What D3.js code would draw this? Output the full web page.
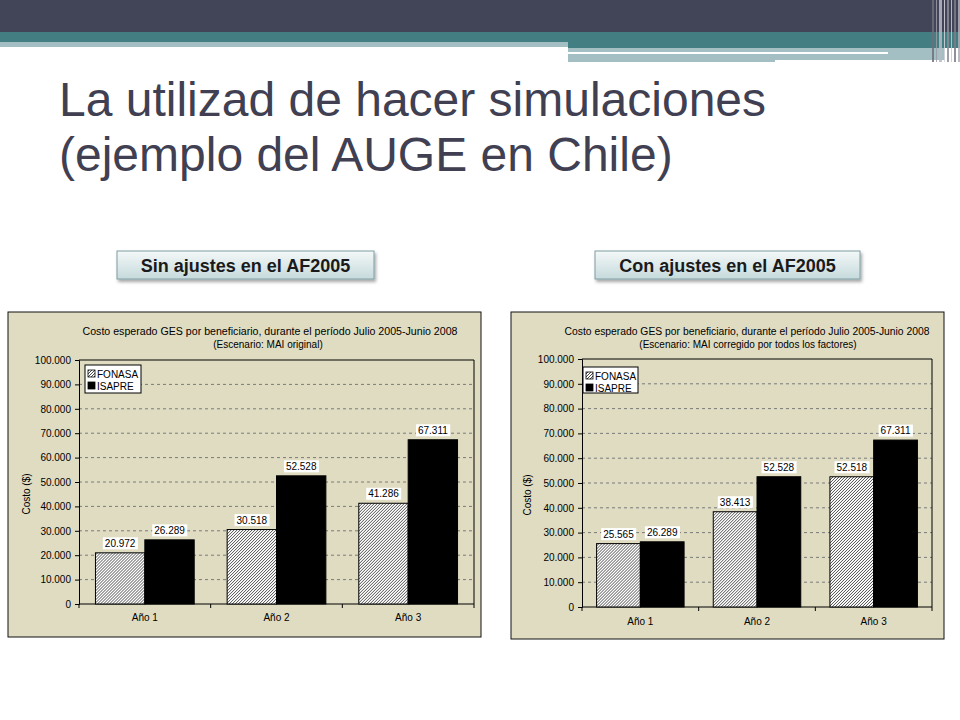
<!DOCTYPE html>
<html>
<head>
<meta charset="utf-8">
<script src="https://cdn.jsdelivr.net/npm/d3@7"></script>
<style>
  body { margin: 0; background: #fff; }
  svg { display: block; font-family: "Liberation Sans", Arial, sans-serif; }
</style>
</head>
<body>
<svg id="slide" width="960" height="720"></svg>
<script>
// Slide: two Excel-style bar charts, Sin / Con ajustes en el AF2005

var categories = ["Año 1", "Año 2", "Año 3"];
var seriesNames = ["FONASA", "ISAPRE"];
var fonasaSin = [20972, 30518, 41286];
var isapreSin = [26289, 52528, 67311];
var fonasaCon = [25565, 38413, 52518];
var isapreCon = [26289, 52528, 67311];
var yTicks = [0, 10000, 20000, 30000, 40000, 50000, 60000, 70000, 80000, 90000, 100000];

var chartTitle = "Costo esperado GES por beneficiario, durante el período Julio 2005-Junio 2008";
var yTitle = "Costo ($)";

var es = d3.formatLocale({decimal: ",", thousands: ".", grouping: [3], currency: ["$", ""]});
var fmt = es.format(",");

var svg = d3.select("#slide");

// ---- banner at the top
svg.append("rect").attr("x", 0).attr("y", 0).attr("width", 960).attr("height", 32).attr("fill", "#424457");
svg.append("rect").attr("x", 0).attr("y", 32).attr("width", 960).attr("height", 10).attr("fill", "#437f82");
svg.append("rect").attr("x", 0).attr("y", 42).attr("width", 568).attr("height", 5).attr("fill", "#a3bfc3");
svg.append("rect").attr("x", 568).attr("y", 42).attr("width", 392).attr("height", 6).attr("fill", "#437f82");
svg.append("rect").attr("x", 568).attr("y", 48).attr("width", 377).attr("height", 14).attr("fill", "#a3bfc3");
svg.append("rect").attr("x", 568).attr("y", 52).attr("width", 320).attr("height", 2).attr("fill", "#ffffff");
svg.append("rect").attr("x", 775).attr("y", 60).attr("width", 170).attr("height", 2).attr("fill", "#ffffff");
var stripes = [[932, 2, "#6d6e7c"], [936, 1, "#9a9ba6"], [939, 3, "#b9bac3"], [944, 1, "#d5d6dc"],
               [947, 2, "#8d8e99"], [951, 1, "#c8c9d0"], [954, 2, "#7c7d8a"], [958, 2, "#aeafb9"]];
stripes.forEach(function(s) {
  svg.append("rect").attr("x", s[0]).attr("y", 0).attr("width", s[1]).attr("height", 62)
    .attr("fill", s[2]).attr("opacity", 0.85);
});

// ---- slide title
var title = svg.append("text").attr("x", 59).attr("fill", "#404052")
  .style("font-size", "48px");
title.append("tspan").attr("x", 59).attr("y", 116).text("La utilizad de hacer simulaciones");
title.append("tspan").attr("x", 59).attr("y", 171).text("(ejemplo del AUGE en Chile)");

// ---- defs: hatch pattern, label gradient, shadow
var defs = svg.append("defs");
var pat = defs.append("pattern").attr("id", "hatch").attr("patternUnits", "userSpaceOnUse")
  .attr("width", 3).attr("height", 3);
pat.append("rect").attr("width", 3).attr("height", 3).attr("fill", "#fff");
pat.append("path").attr("d", "M-1,1 l2,-2 M0,3 l3,-3 M2,4 l2,-2")
  .attr("stroke", "#000").attr("stroke-width", 0.7);

var grad = defs.append("linearGradient").attr("id", "boxgrad").attr("x1", 0).attr("y1", 0).attr("x2", 0).attr("y2", 1);
grad.append("stop").attr("offset", "0%").attr("stop-color", "#f4f8f8");
grad.append("stop").attr("offset", "100%").attr("stop-color", "#c6dadc");

var filt = defs.append("filter").attr("id", "shadow").attr("x", "-10%").attr("y", "-20%").attr("width", "130%").attr("height", "160%");
filt.append("feDropShadow").attr("dx", 1.5).attr("dy", 2.5).attr("stdDeviation", 1.5)
  .attr("flood-color", "#000").attr("flood-opacity", 0.35);

// ---- heading boxes
function headingBox(x, y, w, h, label) {
  svg.append("rect").attr("x", x).attr("y", y).attr("width", w).attr("height", h)
    .attr("fill", "url(#boxgrad)").attr("stroke", "#7f9ea2").attr("stroke-width", 1)
    .attr("filter", "url(#shadow)");
  svg.append("text").attr("x", x + w / 2).attr("y", y + h / 2 + 6.5)
    .attr("text-anchor", "middle").attr("fill", "#1a1a1a")
    .style("font-size", "18px").style("font-weight", "bold")
    .text(label);
}
headingBox(117, 251, 257, 28, "Sin ajustes en el AF2005");
headingBox(595, 251, 265, 28, "Con ajustes en el AF2005");

// ---- charts
function drawChart(cfg) {
  var g = svg.append("g");

  g.append("rect").attr("x", cfg.frame[0]).attr("y", cfg.frame[1])
    .attr("width", cfg.frame[2]).attr("height", cfg.frame[3])
    .attr("fill", "#dfdcc2").attr("stroke", "#111").attr("stroke-width", 1);

  // titles
  g.append("text").attr("x", cfg.titleX).attr("y", cfg.frame[1] + 23)
    .attr("text-anchor", "middle").style("font-size", "10px").attr("fill", "#000")
    .attr("textLength", cfg.titleLen).attr("lengthAdjust", "spacingAndGlyphs")
    .text(chartTitle);
  g.append("text").attr("x", cfg.subX).attr("y", cfg.frame[1] + 36)
    .attr("text-anchor", "middle").style("font-size", "10px").attr("fill", "#000")
    .text(cfg.subtitle);

  var x0 = d3.scaleBand().domain(categories).range([cfg.plot[0], cfg.plot[1]])
    .paddingInner(0.25).paddingOuter(0.125);
  var x1 = d3.scaleBand().domain(seriesNames).range([0, x0.bandwidth()]);
  var y = d3.scaleLinear().domain([0, 100000]).range([cfg.plot[3], cfg.plot[2]]);

  // gridlines
  g.append("g").selectAll("line").data(yTicks.slice(1, -1)).enter().append("line")
    .attr("x1", cfg.plot[0]).attr("x2", cfg.plot[1])
    .attr("y1", function(d) { return y(d); }).attr("y2", function(d) { return y(d); })
    .attr("stroke", "#7a7a7a").attr("stroke-width", 1).attr("stroke-dasharray", "3,3");

  // plot border (top and right)
  g.append("path")
    .attr("d", "M" + cfg.plot[0] + "," + cfg.plot[2] + "H" + cfg.plot[1] + "V" + cfg.plot[3])
    .attr("fill", "none").attr("stroke", "#000").attr("stroke-width", 1);

  // y axis
  var yAxis = g.append("g").attr("transform", "translate(" + cfg.plot[0] + ",0)")
    .call(d3.axisLeft(y).tickValues(yTicks).tickFormat(fmt).tickSize(4).tickPadding(4));
  yAxis.select(".domain").attr("stroke", "#000");
  yAxis.selectAll("text").style("font-size", "10px").attr("fill", "#000")
    .style("font-family", "'Liberation Sans', Arial, sans-serif");

  g.append("text")
    .attr("transform", "translate(" + cfg.yTitleX + "," + ((cfg.plot[2] + cfg.plot[3]) / 2 + 12) + ") rotate(-90)")
    .attr("text-anchor", "middle").style("font-size", "10px").attr("fill", "#000")
    .text(yTitle);

  // x axis: line plus boundary ticks, labels centred in band
  g.append("line").attr("x1", cfg.plot[0]).attr("x2", cfg.plot[1])
    .attr("y1", cfg.plot[3]).attr("y2", cfg.plot[3]).attr("stroke", "#000");
  var step = x0.step();
  var bounds = d3.range(categories.length + 1).map(function(i) { return cfg.plot[0] + i * step; });
  g.append("g").selectAll("line").data(bounds).enter().append("line")
    .attr("x1", function(d) { return d; }).attr("x2", function(d) { return d; })
    .attr("y1", cfg.plot[3]).attr("y2", cfg.plot[3] + 4).attr("stroke", "#000");
  g.append("g").selectAll("text").data(categories).enter().append("text")
    .attr("x", function(d) { return x0(d) + x0.bandwidth() / 2; })
    .attr("y", cfg.catY).attr("text-anchor", "middle")
    .style("font-size", "10px").attr("fill", "#000")
    .text(function(d) { return d; });

  // bars
  var rows = categories.map(function(c, i) {
    return {cat: c, vals: [{s: "FONASA", v: cfg.fonasa[i]}, {s: "ISAPRE", v: cfg.isapre[i]}]};
  });
  var grp = g.append("g").selectAll("g").data(rows).enter().append("g")
    .attr("transform", function(d) { return "translate(" + x0(d.cat) + ",0)"; });
  grp.selectAll("rect").data(function(d) { return d.vals; }).enter().append("rect")
    .attr("x", function(d) { return x1(d.s); })
    .attr("y", function(d) { return y(d.v); })
    .attr("width", x1.bandwidth())
    .attr("height", function(d) { return y(0) - y(d.v); })
    .attr("fill", function(d) { return d.s === "FONASA" ? "url(#hatch)" : "#000"; })
    .attr("stroke", "#000").attr("stroke-width", 1);

  // data labels with white boxes
  grp.selectAll("g.lbl").data(function(d) { return d.vals; }).enter().append("g")
    .attr("class", "lbl")
    .each(function(d) {
      var lg = d3.select(this);
      var cx = x1(d.s) + x1.bandwidth() / 2;
      var t = lg.append("text").attr("x", cx).attr("y", y(d.v) - 6)
        .attr("text-anchor", "middle").style("font-size", "10px").attr("fill", "#000")
        .text(fmt(d.v));
      var bb = t.node().getBBox();
      lg.insert("rect", "text").attr("x", bb.x - 2).attr("y", bb.y - 0.5)
        .attr("width", bb.width + 4).attr("height", bb.height + 1).attr("fill", "#fff");
    });

  // legend
  var L = cfg.legend;
  var lg = g.append("g");
  lg.append("rect").attr("x", L[0]).attr("y", L[1]).attr("width", L[2]).attr("height", L[3])
    .attr("fill", "#fff").attr("stroke", "#000").attr("stroke-width", 1);
  seriesNames.forEach(function(s, i) {
    var yy = L[1] + 4 + i * 12;
    lg.append("rect").attr("x", L[0] + 3).attr("y", yy + 1).attr("width", 7).attr("height", 7)
      .attr("fill", s === "FONASA" ? "url(#hatch)" : "#000").attr("stroke", "#000").attr("stroke-width", 0.8);
    lg.append("text").attr("x", L[0] + 12).attr("y", yy + 9)
      .style("font-size", "10px").attr("fill", "#000").text(s);
  });
}

drawChart({
  frame: [8, 312, 473, 325],
  plot: [79, 474, 360, 604],
  titleX: 270, titleLen: 375,
  subX: 268, subtitle: "(Escenario: MAI original)",
  yTitleX: 30, catY: 621,
  legend: [85, 365, 56, 28],
  fonasa: fonasaSin, isapre: isapreSin
});

drawChart({
  frame: [511, 312, 433, 327],
  plot: [582, 932, 359, 607],
  titleX: 747, titleLen: 365,
  subX: 748, subtitle: "(Escenario: MAI corregido por todos los factores)",
  yTitleX: 531, catY: 625,
  legend: [583, 367, 55, 26],
  fonasa: fonasaCon, isapre: isapreCon
});
</script>
</body>
</html>
